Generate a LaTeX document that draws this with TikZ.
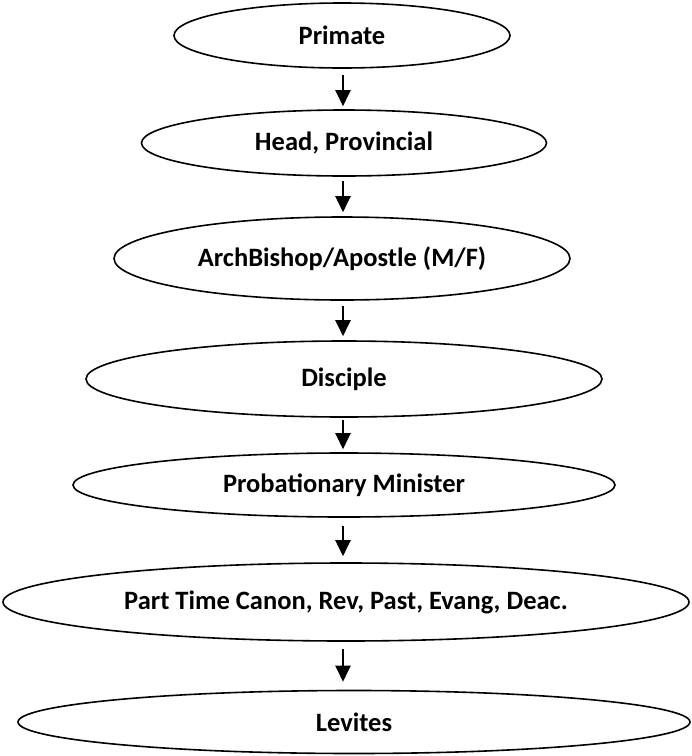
\documentclass[tikz,border=0pt]{standalone}
\usepackage{fontspec}
\setmainfont{Carlito}
\usetikzlibrary{shapes.geometric,arrows.meta}
\begin{document}
\begin{tikzpicture}[x=1pt,y=-1pt,
  rank/.style={ellipse,draw=black,line width=1.6pt,inner sep=0pt,
    font=\fontsize{26.5}{31}\selectfont\bfseries},
  down/.style={-{Triangle[length=16pt,width=15pt]},line width=2.2pt}]
\useasboundingbox (0,0) rectangle (692,756);
\node[rank,minimum width=336pt,minimum height=65pt] (primate) at (342,35.5) {Primate};
\node[rank,minimum width=405pt,minimum height=66pt] (head) at (344,143) {Head, Provincial};
\node[rank,minimum width=456pt,minimum height=83pt] (arch) at (342,258.5) {ArchBishop/Apostle (M/F)};
\node[rank,minimum width=516pt,minimum height=76pt] (disc) at (344,379) {Disciple};
\node[rank,minimum width=542pt,minimum height=64pt] (prob) at (344,485) {Probationary Minister};
\node[rank,minimum width=686pt,minimum height=78pt] (part) at (346,602) {Part Time Canon, Rev, Past, Evang, Deac.};
\node[rank,minimum width=672pt,minimum height=63pt] (lev) at (354,722) {Levites};
\draw[down,shorten <=6pt,shorten >=3pt] (primate.south -| 343,0) -- (head.north -| 343,0);
\draw[down,shorten <=4pt,shorten >=4pt] (head.south -| 343,0) -- (arch.north -| 343,0);
\draw[down,shorten <=5pt,shorten >=4pt] (arch.south -| 343,0) -- (disc.north -| 343,0);
\draw[down,shorten <=2pt,shorten >=3pt] (disc.south -| 343,0) -- (prob.north -| 343,0);
\draw[down,shorten <=8pt,shorten >=6pt] (prob.south -| 343,0) -- (part.north -| 343,0);
\draw[down,shorten <=7pt,shorten >=8pt] (part.south -| 343,0) -- (lev.north -| 343,0);
\end{tikzpicture}
\end{document}
